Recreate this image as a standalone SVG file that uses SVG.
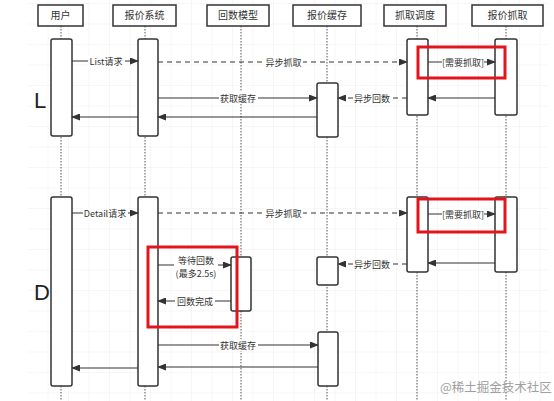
<svg xmlns="http://www.w3.org/2000/svg" width="554" height="401" viewBox="0 0 554 401">
<defs>
<pattern id="grid" width="20.5" height="20.5" patternUnits="userSpaceOnUse" x="28" y="4">
<path d="M20.5 0 V20.5 M0 20.5 H20.5" fill="none" stroke="#eeeeee" stroke-width="1"/>
</pattern>
<marker id="ah" markerWidth="9" markerHeight="7" refX="8" refY="3.5" orient="auto" markerUnits="userSpaceOnUse">
<path d="M0,0 L9,3.5 L0,7 z" fill="#333"/>
</marker>
<style>
.hdr{fill:#fff;stroke:#333;stroke-width:1.5}
.act{fill:#fff;stroke:#333;stroke-width:1.5}
.life{stroke:#555;stroke-width:1;stroke-dasharray:1.5 1.5;fill:none}
.msg{stroke:#333;stroke-width:1.2;fill:none;marker-end:url(#ah)}
.dash{stroke-dasharray:5 4}
.t{font-family:"Noto Sans CJK SC","Liberation Sans",sans-serif;font-size:9px;fill:#333;text-anchor:middle}
.h{font-family:"Noto Sans CJK SC","Liberation Sans",sans-serif;font-size:10px;fill:#333;text-anchor:middle}
.bg{fill:#fff}
.red{fill:none;stroke:#e3151c;stroke-width:3}
.big{font-family:"Liberation Sans",sans-serif;font-size:22px;fill:#222}
</style>
</defs>
<rect width="554" height="401" fill="#fff"/>
<rect x="28" y="0" width="520" height="401" fill="url(#grid)"/>

<g id="lifelines">
<line class="life" x1="61" y1="26" x2="61" y2="401"/>
<line class="life" x1="145" y1="26" x2="145" y2="401"/>
<line class="life" x1="241" y1="26" x2="241" y2="401"/>
<line class="life" x1="327" y1="26" x2="327" y2="401"/>
<line class="life" x1="417" y1="26" x2="417" y2="401"/>
<line class="life" x1="506" y1="26" x2="506" y2="401"/>
</g>

<g id="user"><rect class="hdr" x="38" y="5" width="45" height="21"/><text class="h" x="60.5" y="19">用户</text></g>
<g id="quote-system"><rect class="hdr" x="113" y="5" width="63" height="21"/><text class="h" x="144.5" y="19">报价系统</text></g>
<g id="callback-model"><rect class="hdr" x="207" y="5" width="62" height="21"/><text class="h" x="238" y="19">回数模型</text></g>
<g id="quote-cache"><rect class="hdr" x="293" y="5" width="68" height="21"/><text class="h" x="327" y="19">报价缓存</text></g>
<g id="fetch-scheduler"><rect class="hdr" x="384" y="5" width="62" height="21"/><text class="h" x="415" y="19">抓取调度</text></g>
<g id="quote-fetch"><rect class="hdr" x="472" y="5" width="71" height="21"/><text class="h" x="507.5" y="19">报价抓取</text></g>

<g id="activations">
<rect class="act" x="51" y="39" width="21" height="97" rx="2"/>
<rect class="act" x="138" y="39" width="20" height="97" rx="2"/>
<rect class="act" x="317" y="83" width="21" height="54" rx="2"/>
<rect class="act" x="407" y="39" width="21" height="76" rx="2"/>
<rect class="act" x="495" y="39" width="22" height="76" rx="2"/>
<rect class="act" x="51" y="197" width="21" height="189" rx="2"/>
<rect class="act" x="138" y="197" width="20" height="189" rx="2"/>
<rect class="act" x="407" y="197" width="21" height="75" rx="2"/>
<rect class="act" x="495" y="197" width="22" height="75" rx="2"/>
<rect class="act" x="317" y="257" width="21" height="28" rx="2"/>
<rect class="act" x="231" y="257" width="20" height="54" rx="2"/>
<rect class="act" x="318" y="332" width="20" height="54" rx="2"/>
</g>

<g id="connectors">
<line class="msg" x1="72" y1="61" x2="138" y2="61"/>
<line class="msg dash" x1="158" y1="62" x2="407" y2="62"/>
<line class="msg" x1="428" y1="62" x2="495" y2="62"/>
<line class="msg" x1="158" y1="98" x2="317" y2="98"/>
<line class="msg dash" x1="407" y1="98" x2="338" y2="98"/>
<line class="msg" x1="495" y1="98" x2="428" y2="98"/>
<line class="msg" x1="138" y1="117" x2="72" y2="117"/>
<line class="msg" x1="317" y1="117" x2="158" y2="117"/>

<line class="msg" x1="72" y1="213" x2="138" y2="213"/>
<line class="msg dash" x1="158" y1="213" x2="407" y2="213"/>
<line class="msg" x1="428" y1="214" x2="495" y2="214"/>
<line class="msg" x1="495" y1="263" x2="428" y2="263"/>
<line class="msg dash" x1="407" y1="264" x2="338" y2="264"/>
<line class="msg" x1="158" y1="265" x2="231" y2="265"/>
<line class="msg" x1="231" y1="301" x2="158" y2="301"/>
<line class="msg" x1="158" y1="345" x2="318" y2="345"/>
<line class="msg" x1="318" y1="367" x2="158" y2="367"/>
<line class="msg" x1="138" y1="368" x2="72" y2="368"/>

<rect class="bg" x="88" y="55" width="37" height="12"/><text class="t" x="106" y="64.5">List请求</text>
<rect class="bg" x="264" y="56" width="39" height="12"/><text class="t" x="283.5" y="65.5">异步抓取</text>
<rect class="bg" x="442" y="56" width="42" height="12"/><text class="t" x="463" y="65.5">[需要抓取]</text>
<rect class="bg" x="219" y="92" width="39" height="12"/><text class="t" x="238" y="101.5">获取缓存</text>
<rect class="bg" x="353" y="92" width="39" height="12"/><text class="t" x="372" y="101.5">异步回数</text>

<rect class="bg" x="83" y="207" width="45" height="12"/><text class="t" x="105" y="216.5">Detail请求</text>
<rect class="bg" x="264" y="207" width="39" height="12"/><text class="t" x="283.5" y="216.5">异步抓取</text>
<rect class="bg" x="442" y="208" width="42" height="12"/><text class="t" x="463" y="217.5">[需要抓取]</text>
<rect class="bg" x="353" y="258" width="39" height="12"/><text class="t" x="372" y="267.5">异步回数</text>
<rect class="bg" x="174" y="255" width="44" height="24"/><text class="t" x="196" y="264" font-size="8.5">等待回数</text><text class="t" x="196" y="276.5" font-size="8.5">(最多2.5s)</text>
<rect class="bg" x="175" y="295" width="40" height="12"/><text class="t" x="195" y="304.5">回数完成</text>
<rect class="bg" x="219" y="339" width="39" height="12"/><text class="t" x="238" y="348.5">获取缓存</text>
</g>

<g id="highlights">
<rect class="red" x="418" y="47" width="87" height="31"/>
<rect class="red" x="418" y="199" width="87" height="33"/>
<rect class="red" x="148" y="247" width="89" height="80"/>
</g>

<text class="big" x="34" y="108">L</text>
<text class="big" x="34" y="300">D</text>
<text x="440" y="392" font-family="Noto Sans CJK SC,sans-serif" font-size="12.5" fill="#a0a0a0">@稀土掘金技术社区</text>
</svg>
